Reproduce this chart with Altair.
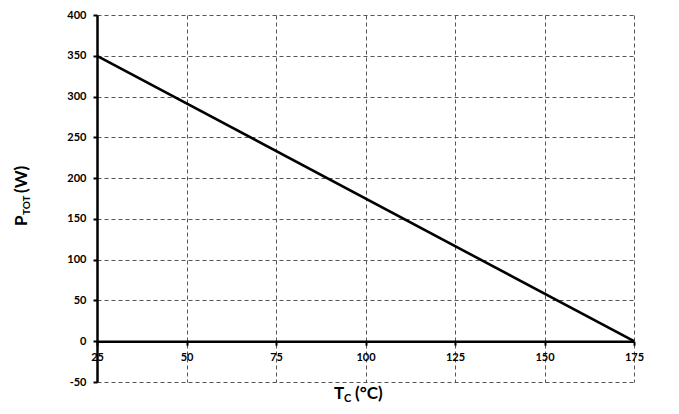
import altair as alt
import pandas as pd

# ---- data ----
tc = [25, 175]          # case temperature (°C)
ptot = [350, 0]         # total power dissipation (W)
x_ticks = [25, 50, 75, 100, 125, 150, 175]
y_ticks = [-50, 0, 50, 100, 150, 200, 250, 300, 350, 400]
x_dom = [25, 175]
y_dom = [-50, 400]

W, H = 537, 367
FONT = "Lato"

df = pd.DataFrame({"tc": tc, "ptot": ptot})

# x axis sits on the zero line
x_off = -H * (0 - y_dom[0]) / (y_dom[1] - y_dom[0])

grid_kw = dict(grid=True, gridDash=[4, 3], gridColor="#555555", gridWidth=1, gridOpacity=1)
lab_kw = dict(labelFont=FONT, labelFontWeight="bold", labelFontSize=11, labelColor="black",
              labelFlush=False, labelExpr="'' + datum.value")

x_enc = alt.X(
    "tc:Q",
    scale=alt.Scale(domain=x_dom, nice=False, zero=False),
    axis=alt.Axis(values=x_ticks, title=None, offset=x_off,
                  domainColor="black", domainWidth=2.5,
                  tickColor="black", tickSize=4, tickWidth=2,
                  labelPadding=6, **grid_kw, **lab_kw),
)
y_enc = alt.Y(
    "ptot:Q",
    scale=alt.Scale(domain=y_dom, nice=False, zero=False),
    axis=alt.Axis(values=y_ticks, title=None,
                  domainColor="black", domainWidth=2.5,
                  tickColor="black", tickSize=4, tickWidth=2,
                  labelPadding=7, **grid_kw, **lab_kw),
)

line = alt.Chart(df).mark_line(color="black", strokeWidth=2.6).encode(x_enc, y_enc)


def txt(s, x, y, size, angle=0):
    return alt.Chart(pd.DataFrame({"t": [s]})).mark_text(
        text=s, font=FONT, fontWeight="bold", fontSize=size, color="black",
        align="left", baseline="alphabetic", angle=angle,
    ).encode(x=alt.value(x), y=alt.value(y))


# x title: T_C (°C)  (centred under the plot)
xt = [
    txt("T", 237, 384, 17),
    txt("C", 247, 387, 11),
    txt("(°C)", 258, 384, 17),
]
# y title: P_TOT (W) (centred beside the plot, reading upwards)
yt = [
    txt("P", -70, 211, 17, angle=270),
    txt("TOT", -67, 200, 10, angle=270),
    txt("(W)", -70, 178, 17, angle=270),
]

chart = alt.layer(line, *xt, *yt).properties(
    width=W, height=H,
    autosize=alt.AutoSizeParams(type="none"),
    padding={"left": 89, "top": 7, "right": 37, "bottom": 30},
).configure_view(stroke=None)

chart.save("out.html", embed_options={"renderer": "svg", "actions": False})
